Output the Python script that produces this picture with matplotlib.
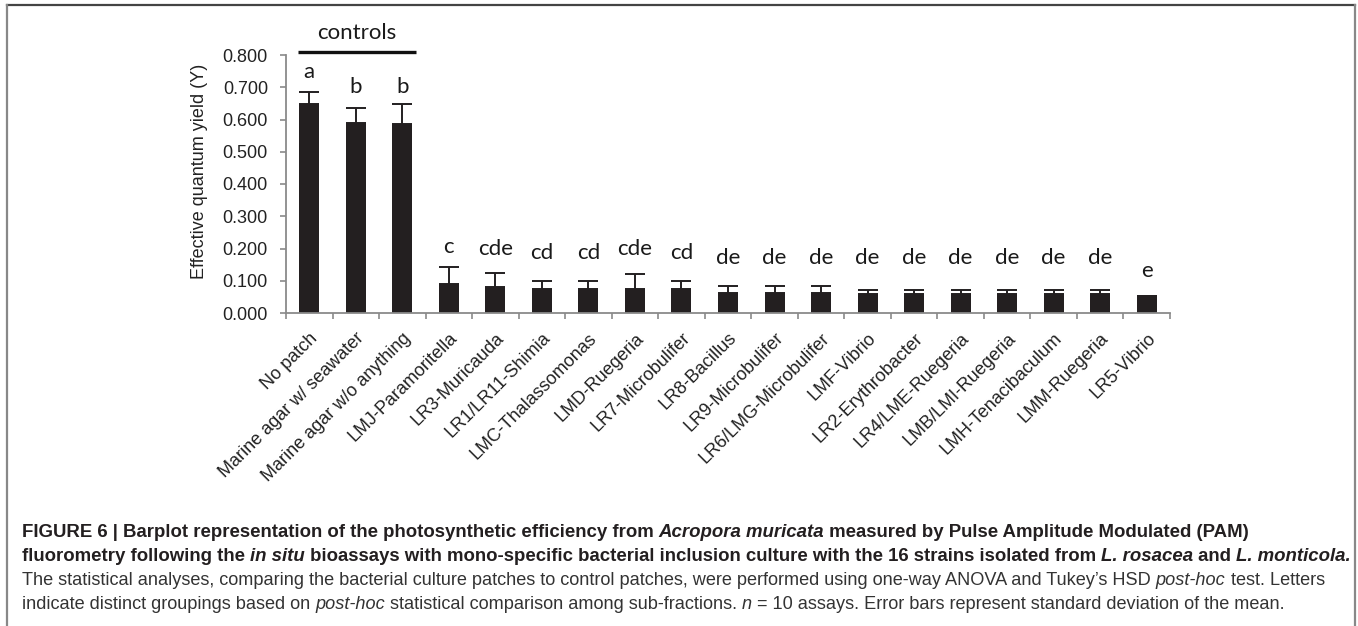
import numpy as np
import matplotlib.pyplot as plt
from matplotlib.lines import Line2D
from matplotlib.font_manager import FontProperties

# values
categories = ['No patch', 'Marine agar w/ seawater', 'Marine agar w/o anything',
              'LMJ-Paramoritella', 'LR3-Muricauda', 'LR1/LR11-Shimia',
              'LMC-Thalassomonas', 'LMD-Ruegeria', 'LR7-Microbulifer',
              'LR8-Bacillus', 'LR9-Microbulifer', 'LR6/LMG-Microbulifer',
              'LMF-Vibrio', 'LR2-Erythrobacter', 'LR4/LME-Ruegeria',
              'LMB/LMI-Ruegeria', 'LMH-Tenacibaculum', 'LMM-Ruegeria', 'LR5-Vibrio']
means = [0.648, 0.590, 0.585, 0.090, 0.080, 0.073, 0.073, 0.073, 0.073,
         0.063, 0.063, 0.063, 0.058, 0.058, 0.058, 0.058, 0.058, 0.058, 0.053]
sds = [0.036, 0.047, 0.062, 0.052, 0.045, 0.025, 0.025, 0.047, 0.025,
       0.021, 0.021, 0.021, 0.013, 0.013, 0.013, 0.013, 0.013, 0.013, 0.0]
groups = ['a', 'b', 'b', 'c', 'cde', 'cd', 'cd', 'cde', 'cd',
          'de', 'de', 'de', 'de', 'de', 'de', 'de', 'de', 'de', 'e']
yticks = [0.0, 0.1, 0.2, 0.3, 0.4, 0.5, 0.6, 0.7, 0.8]

BAR = '#231f20'
AXC = '#8a8a8a'
W, H = 1358, 626

fig = plt.figure(figsize=(W / 100, H / 100), dpi=100)
ax = fig.add_axes([286 / W, 1 - 313 / H, 884 / W, 258 / H])

x = np.arange(len(categories))
ax.bar(x, means, width=0.43, color=BAR, zorder=2)
ax.errorbar(x, means, yerr=[np.zeros(len(sds)), sds], fmt='none',
            ecolor=BAR, elinewidth=1.4, capsize=7.5, capthick=1.4, zorder=3)

ax.set_xlim(-0.5, len(categories) - 0.5)
ax.set_ylim(0, 0.8)
for s in ['top', 'right']:
    ax.spines[s].set_visible(False)
for s in ['left', 'bottom']:
    ax.spines[s].set_color(AXC)
    ax.spines[s].set_linewidth(1.3)

ax.set_yticks(yticks)
ax.set_yticklabels(['%.3f' % v for v in yticks], fontsize=13,
                   family='Liberation Sans', color='#222222')
ax.tick_params(axis='y', direction='out', length=4, width=1.2, color=AXC, pad=9)

ax.set_xticks(x)
ax.set_xticklabels(categories, rotation=45, ha='right', va='top',
                   rotation_mode='anchor', fontsize=13,
                   family='Liberation Sans', color='#222222')
ax.tick_params(axis='x', which='major', length=0, pad=12)
ax.set_xticks(np.arange(-0.5, len(categories)), minor=True)
ax.tick_params(axis='x', which='minor', direction='out', length=4, width=1.2, color=AXC)

ax.set_ylabel('Effective quantum yield (Y)', fontsize=13,
              family='Liberation Sans', color='#222222')
ax.yaxis.set_label_coords(-0.088, 0.547)

# significance letters
letter_y = [0.728, 0.681, 0.681, 0.185, 0.180, 0.167, 0.167, 0.180, 0.167,
            0.152, 0.152, 0.152, 0.152, 0.152, 0.152, 0.152, 0.152, 0.152, 0.113]
for xi, g, ly in zip(x, groups, letter_y):
    ax.text(xi, ly, g, ha='center', va='baseline', fontsize=16,
            family='Lato', color='#1a1a1a', clip_on=False)

ax.plot([-0.24, 2.29], [0.808, 0.808], color='#111111', lw=2.4,
        solid_capstyle='butt', clip_on=False)
ax.text(1.02, 0.85, 'controls', ha='center', va='baseline', fontsize=16,
        family='Lato', color='#1a1a1a', clip_on=False)

# frame around the figure panel
fig.add_artist(Line2D([7 / W, 1355 / W], [1 - 5 / H] * 2, transform=fig.transFigure,
                      color='#444444', lw=1.6))
fig.add_artist(Line2D([7 / W] * 2, [0, 1 - 5 / H], transform=fig.transFigure,
                      color='#888888', lw=1.6))
fig.add_artist(Line2D([1355 / W] * 2, [0, 1 - 5 / H], transform=fig.transFigure,
                      color='#888888', lw=1.6))

# caption with mixed styles
renderer = fig.canvas.get_renderer()


def advance(txt, prop):
    w1 = renderer.get_text_width_height_descent('|' + txt + '|', prop, ismath=False)[0]
    w0 = renderer.get_text_width_height_descent('||', prop, ismath=False)[0]
    return w1 - w0


def props(kind, size):
    weight = 'bold' if 'b' in kind else 'normal'
    style = 'italic' if 'i' in kind else 'normal'
    return FontProperties(family='Liberation Sans', weight=weight, style=style, size=size)


def line_width(parts, size):
    return sum(advance(t, props(k, size)) for t, k in parts)


def draw_line(parts, x0, base, size, color):
    xp = x0
    for t, k in parts:
        p = props(k, size)
        fig.text(xp / W, 1 - base / H, t, fontproperties=p, color=color,
                 ha='left', va='baseline')
        xp += advance(t, p)


cap1 = [('FIGURE 6 | Barplot representation of the photosynthetic efficiency from ', 'b'),
        ('Acropora muricata', 'bi'),
        (' measured by Pulse Amplitude Modulated (PAM)', 'b')]
cap2 = [('fluorometry following the ', 'b'), ('in situ', 'bi'),
        (' bioassays with mono-specific bacterial inclusion culture with the 16 strains isolated from ', 'b'),
        ('L. rosacea', 'bi'), (' and ', 'b'), ('L. monticola.', 'bi')]
cap3 = [('The statistical analyses, comparing the bacterial culture patches to control patches, '
         'were performed using one-way ANOVA and Tukey\u2019s HSD ', 'r'),
        ('post-hoc', 'i'), (' test. Letters', 'r')]
cap4 = [('indicate distinct groupings based on ', 'r'), ('post-hoc', 'i'),
        (' statistical comparison among sub-fractions. ', 'r'), ('n', 'i'),
        (' = 10 assays. Error bars represent standard deviation of the mean.', 'r')]

bsize = 12 * (1250 - 22 + 1340 - 22) / (line_width(cap1, 12) + line_width(cap2, 12))
rsize = 12 * (1326 - 22) / line_width(cap3, 12)
draw_line(cap1, 22, 537, bsize, '#231f20')
draw_line(cap2, 22, 561, bsize, '#231f20')
draw_line(cap3, 22, 585, rsize, '#333333')
draw_line(cap4, 22, 609, rsize, '#333333')

fig.savefig('out.png', dpi=100)
